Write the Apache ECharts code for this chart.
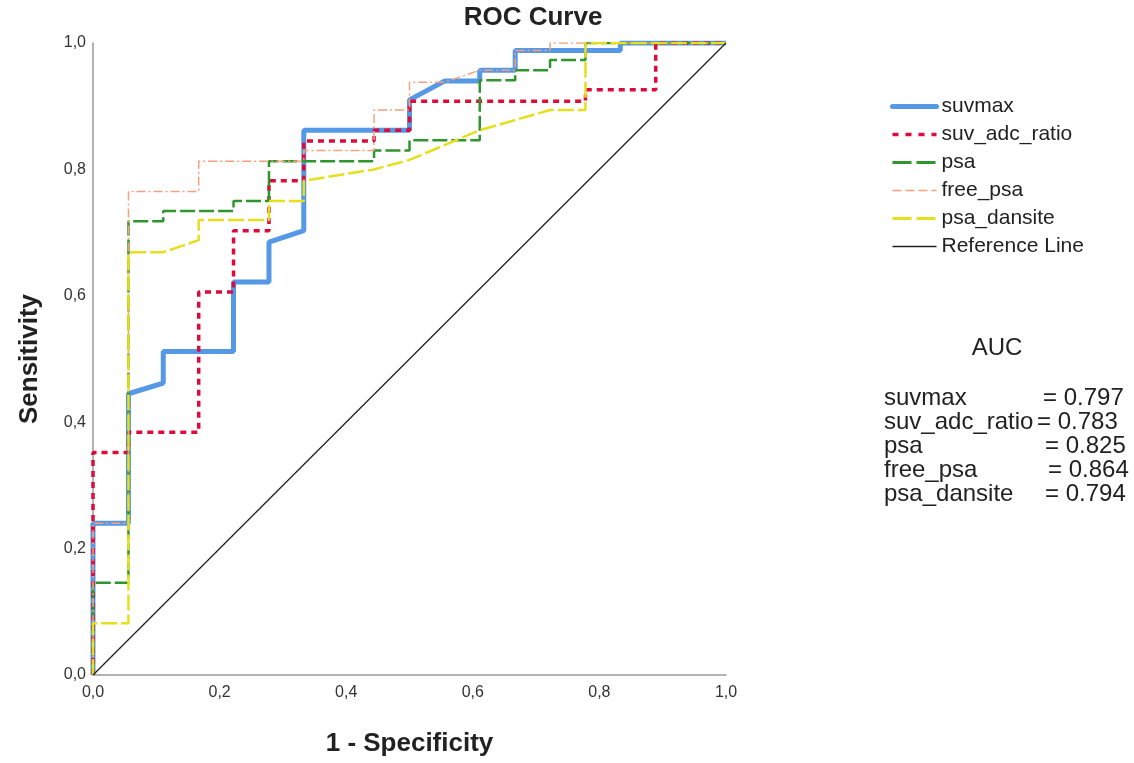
<!DOCTYPE html>
<html>
<head>
<meta charset="utf-8">
<script src="https://cdn.jsdelivr.net/npm/echarts@6/dist/echarts.min.js"></script>
<style>html,body{margin:0;padding:0;background:#fff}#c{width:1134px;height:763px}</style>
</head>
<body>
<div id="c"></div>
<script>
// ---- data (1 - specificity, sensitivity) ----
const seriesNames = ['suvmax', 'suv_adc_ratio', 'psa', 'free_psa', 'psa_dansite', 'Reference Line'];

const suvmaxX = [0, 0, 0.056, 0.056, 0.111, 0.111, 0.222, 0.222, 0.278, 0.278, 0.333, 0.333, 0.5, 0.5, 0.556, 0.611, 0.611, 0.667, 0.667, 0.833, 0.833, 1];
const suvmaxY = [0, 0.24, 0.24, 0.445, 0.462, 0.512, 0.512, 0.622, 0.622, 0.685, 0.703, 0.862, 0.862, 0.91, 0.94, 0.94, 0.957, 0.957, 0.988, 0.988, 1, 1];

const ratioX = [0, 0, 0.056, 0.056, 0.167, 0.167, 0.222, 0.222, 0.278, 0.278, 0.333, 0.333, 0.444, 0.444, 0.5, 0.5, 0.778, 0.778, 0.889, 0.889, 1];
const ratioY = [0, 0.352, 0.352, 0.384, 0.384, 0.606, 0.606, 0.703, 0.703, 0.782, 0.782, 0.845, 0.845, 0.862, 0.862, 0.908, 0.908, 0.926, 0.926, 1, 1];

const psaX = [0, 0, 0.056, 0.056, 0.111, 0.111, 0.222, 0.222, 0.278, 0.278, 0.444, 0.444, 0.5, 0.5, 0.611, 0.611, 0.667, 0.667, 0.722, 0.722, 0.778, 0.778, 1];
const psaY = [0, 0.146, 0.146, 0.718, 0.718, 0.734, 0.734, 0.75, 0.75, 0.813, 0.813, 0.83, 0.83, 0.846, 0.846, 0.941, 0.941, 0.957, 0.957, 0.973, 0.973, 1, 1];

const freeX = [0, 0, 0.056, 0.056, 0.167, 0.167, 0.333, 0.333, 0.444, 0.444, 0.5, 0.5, 0.556, 0.611, 0.667, 0.667, 0.722, 0.722, 1];
const freeY = [0, 0.24, 0.24, 0.765, 0.765, 0.813, 0.813, 0.83, 0.83, 0.894, 0.894, 0.938, 0.938, 0.957, 0.957, 0.988, 0.988, 1, 1];

const densX = [0, 0, 0.056, 0.056, 0.111, 0.167, 0.167, 0.278, 0.278, 0.333, 0.333, 0.444, 0.5, 0.611, 0.722, 0.778, 0.778, 1];
const densY = [0, 0.082, 0.082, 0.669, 0.669, 0.688, 0.72, 0.72, 0.75, 0.75, 0.782, 0.8, 0.815, 0.862, 0.894, 0.894, 1, 1];

const refX = [0, 1];
const refY = [0, 1];

const aucNames = ['suvmax', 'suv_adc_ratio', 'psa', 'free_psa', 'psa_dansite'];
const aucValues = ['= 0.797', '= 0.783', '= 0.825', '= 0.864', '= 0.794'];
const tickValues = [0, 0.2, 0.4, 0.6, 0.8, 1.0];

// ---- chart ----
const zip = (xs, ys) => xs.map((x, i) => [x, ys[i]]);
const fmt = v => v.toFixed(1).replace('.', ',');
const FONT = '"Liberation Sans", Arial, sans-serif';

const styles = [
  { color: '#5598e6', width: 5, type: 'solid' },
  { color: '#df0a3c', width: 3.5, type: [6, 5] },
  { color: '#2f952f', width: 2.5, type: [15, 4] },
  { color: '#f6a07c', width: 1.5, type: [9, 3, 2, 3] },
  { color: '#e6df1e', width: 2.5, type: [16, 4] },
  { color: '#222222', width: 1.3, type: 'solid' }
];
const legendStyles = [
  { color: '#5598e6', width: 5, type: 'solid', cap: 'round' },
  { color: '#df0a3c', width: 3.5, type: [6, 7] },
  { color: '#2f952f', width: 3, type: [19, 5] },
  { color: '#f6a07c', width: 1.5, type: [9, 4] },
  { color: '#e6df1e', width: 3, type: [19, 5] },
  { color: '#222222', width: 1.5, type: 'solid' }
];
const dataSets = [zip(suvmaxX, suvmaxY), zip(ratioX, ratioY), zip(psaX, psaY), zip(freeX, freeY), zip(densX, densY), zip(refX, refY)];

const chart = echarts.init(document.getElementById('c'), null, { renderer: 'canvas' });

const graphics = [
  { type: 'text', x: 533, y: 18, style: { text: 'ROC Curve', font: 'bold 26px ' + FONT, fill: '#222', align: 'center', verticalAlign: 'middle' } },
  { type: 'text', x: 997, y: 348, style: { text: 'AUC', font: '24px ' + FONT, fill: '#222', align: 'center', verticalAlign: 'middle' } }
];
const rowY = [398, 422, 446, 470, 494];
const valX = [1043, 1037, 1045, 1048, 1045];
aucNames.forEach((n, i) => {
  graphics.push({ type: 'text', x: 884, y: rowY[i], style: { text: n, font: '24px ' + FONT, fill: '#222', verticalAlign: 'middle' } });
  graphics.push({ type: 'text', x: valX[i], y: rowY[i], style: { text: aucValues[i], font: '24px ' + FONT, fill: '#222', verticalAlign: 'middle' } });
});

chart.setOption({
  animation: false,
  backgroundColor: '#ffffff',
  grid: { left: 93, right: 408, top: 43, bottom: 88, containLabel: false },
  xAxis: {
    type: 'value', min: 0, max: 1, interval: 0.2,
    name: '1 - Specificity', nameLocation: 'middle', nameGap: 56,
    nameTextStyle: { fontFamily: FONT, fontWeight: 'bold', fontSize: 26, color: '#222' },
    axisLine: { show: true, onZero: false, lineStyle: { color: '#999', width: 1.5 } },
    axisTick: { show: false },
    splitLine: { show: false },
    axisLabel: { formatter: fmt, fontFamily: FONT, fontSize: 16, color: '#333', margin: 10 }
  },
  yAxis: {
    type: 'value', min: 0, max: 1, interval: 0.2,
    name: 'Sensitivity', nameLocation: 'middle', nameGap: 50, nameRotate: 90,
    nameTextStyle: { fontFamily: FONT, fontWeight: 'bold', fontSize: 26, color: '#222' },
    axisLine: { show: true, onZero: false, lineStyle: { color: '#999', width: 1.5 } },
    axisTick: { show: false },
    splitLine: { show: false },
    axisLabel: { formatter: fmt, fontFamily: FONT, fontSize: 16, color: '#333', margin: 7 }
  },
  legend: {
    orient: 'vertical', left: 885, top: 91,
    itemWidth: 44, itemHeight: 14, itemGap: 7,
    data: seriesNames.map((n, i) => ({ name: n, lineStyle: legendStyles[i] })),
    itemStyle: { opacity: 0 },
    textStyle: { fontFamily: FONT, fontSize: 21, color: '#222' },
    selectedMode: false
  },
  series: seriesNames.map((n, i) => ({
    name: n, type: 'line', data: dataSets[i],
    symbol: 'none', showSymbol: false, smooth: false,
    lineStyle: styles[i], itemStyle: { color: styles[i].color },
    z: 2 + i, silent: true
  })),
  graphic: graphics
});
</script>
</body>
</html>
